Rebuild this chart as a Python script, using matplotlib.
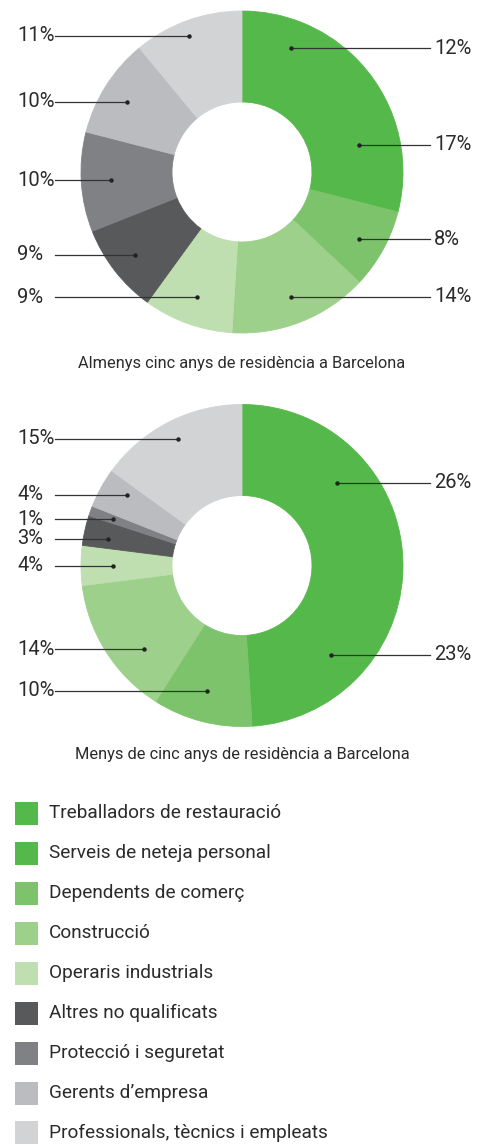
import numpy as np
import matplotlib
matplotlib.use("Agg")
import matplotlib.pyplot as plt
from matplotlib.patches import Rectangle

plt.rcParams['font.family'] = ['Roboto', 'DejaVu Sans']

categories = ['Treballadors de restauració', 'Serveis de neteja personal',
              'Dependents de comerç', 'Construcció', 'Operaris industrials',
              'Altres no qualificats', 'Protecció i seguretat',
              'Gerents d\u2019empresa', 'Professionals, tècnics i empleats']
colors = ['#55b84a', '#55b84a', '#7dc36b', '#9dd08b', '#bfdfb0',
          '#58595b', '#808184', '#bbbcbf', '#d2d3d5']

almenys = [12, 17, 8, 14, 9, 9, 10, 10, 11]
menys = [26, 23, 10, 14, 4, 3, 1, 4, 15]

title1 = 'Almenys cinc anys de residència a Barcelona'
title2 = 'Menys de cinc anys de residència a Barcelona'

# label anchor layout (radius in px, angle nudge in degrees clockwise)
rad1 = [133, 120, 135, 134, 133, 135, 131, 135, 146]
nudge1 = [0, 3, 1, 0, 0, 0, 0, -1, -1.5]
rad2 = [126, 126, 130, 129, 129, 137, 137, 135, 142]
nudge2 = [2, 0, 1, -8, 0, -1.4, 0, 2.7, 0]

W, H = 489, 1145
TXT = '#2b2b2b'
fig = plt.figure(figsize=(W / 100, H / 100), dpi=100)
ax = fig.add_axes([0, 0, 1, 1])


def donut(values, cy, rads, nudges, title, ty):
    cx, R = 242, 161
    wedges, _ = ax.pie(values, colors=colors, startangle=90, counterclock=False,
                       center=(cx, H - cy), radius=R,
                       wedgeprops=dict(width=91, linewidth=0.6))
    for w in wedges:
        w.set_edgecolor(w.get_facecolor())
    for w, v, r, n in zip(wedges, values, rads, nudges):
        mid = np.deg2rad((w.theta1 + w.theta2) / 2 - n)
        px = cx + r * np.cos(mid)
        py = H - cy + r * np.sin(mid)
        if np.cos(mid) > 0:
            ax.plot([px, 430], [py, py], color='#333333', lw=0.9)
            ax.text(434, py, f'{v}%', ha='left', va='center', fontsize=14.5, color=TXT)
        else:
            ax.plot([55, px], [py, py], color='#333333', lw=0.9)
            ax.text(17, py, f'{v}%', ha='left', va='center', fontsize=14.5, color=TXT)
        ax.plot(px, py, 'o', ms=2.2, color='#222222')
    ax.text(cx, H - ty, title, ha='center', va='center', fontsize=11.8, color=TXT)


donut(almenys, 172, rad1, nudge1, title1, 363)
donut(menys, 565.5, rad2, nudge2, title2, 755)

for i, (c, lab) in enumerate(zip(categories, colors)):
    yc = 813 + 40 * i
    ax.add_patch(Rectangle((15, H - yc - 11.5), 23, 23, facecolor=lab, edgecolor='none'))
    ax.text(49, H - yc, c, ha='left', va='center', fontsize=13.7, color=TXT)

ax.set_xlim(0, W)
ax.set_ylim(0, H)
ax.set_aspect('equal')
ax.axis('off')
fig.savefig('out.png', dpi=100)
